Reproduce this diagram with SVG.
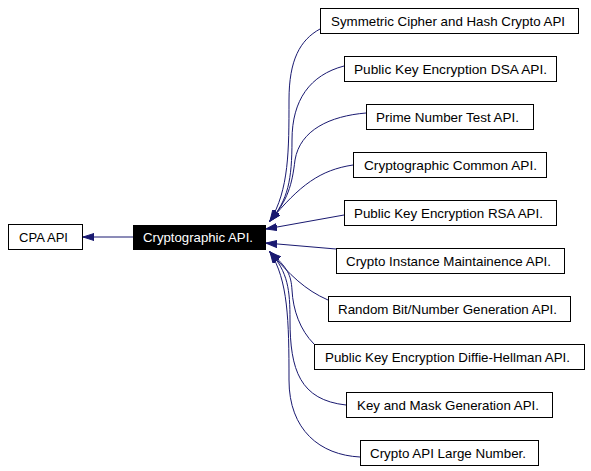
<svg xmlns="http://www.w3.org/2000/svg" width="591" height="471" viewBox="0 0 591 471">
<style>
.box{fill:#ffffff;stroke:#000000;stroke-width:1}
.lbl{font-family:"Liberation Sans",Arial,sans-serif;font-size:13px;fill:#000000;text-anchor:middle}
.edge{fill:none;stroke:#191970;stroke-width:1;marker-end:url(#ah)}
</style>
<defs>
<marker id="ah" markerUnits="userSpaceOnUse" markerWidth="12" markerHeight="8" refX="11" refY="4" orient="auto">
<path d="M0,0.5 L11,4 L0,7.5 z" fill="#191970" stroke="#191970"/>
</marker>
</defs>
<rect width="591" height="471" fill="#ffffff"/>
<g id="connectors">
<path class="edge" d="M133,237 L83,237"/>
<path class="edge" d="M320,29 C300,40 289,60 289,100 C289,150 289,190 270,221"/>
<path class="edge" d="M344,66 C310,75 292,100 292,140 C292,180 288,200 270,221"/>
<path class="edge" d="M366,113 C330,116 300,130 295,160 C292,185 288,200 270,221"/>
<path class="edge" d="M353,165 C320,170 300,185 270,221"/>
<path class="edge" d="M344,215 L266,229"/>
<path class="edge" d="M336,249 L266,243"/>
<path class="edge" d="M328,300 C305,290 290,275 270,252"/>
<path class="edge" d="M314,344 C300,330 293,310 292,290 C291,275 288,268 270,252"/>
<path class="edge" d="M346,405 C300,400 290,370 290,320 C290,290 288,272 270,252"/>
<path class="edge" d="M360,457 C320,455 289,430 289,380 C289,320 288,280 270,252"/>
</g>
<g id="cpa"><rect class="box" x="8.5" y="224.5" width="74" height="25"/><text class="lbl" x="43.5" y="241.5" textLength="49" lengthAdjust="spacingAndGlyphs">CPA API</text></g>
<g id="crypto"><rect x="133.5" y="225.5" width="132" height="24" fill="#000000" stroke="#000000"/><text class="lbl" x="198" y="242" textLength="110" lengthAdjust="spacingAndGlyphs" style="fill:#ffffff">Cryptographic API.</text></g>
<g id="sym"><rect class="box" x="320.5" y="8.5" width="258" height="25"/><text class="lbl" x="448" y="25.5" textLength="234" lengthAdjust="spacingAndGlyphs">Symmetric Cipher and Hash Crypto API</text></g>
<g id="dsa"><rect class="box" x="344.5" y="56.5" width="212" height="25"/><text class="lbl" x="450.5" y="73.5" textLength="193" lengthAdjust="spacingAndGlyphs">Public Key Encryption DSA API.</text></g>
<g id="prime"><rect class="box" x="366.5" y="104.5" width="167" height="25"/><text class="lbl" x="447.5" y="121.5" textLength="143" lengthAdjust="spacingAndGlyphs">Prime Number Test API.</text></g>
<g id="common"><rect class="box" x="353.5" y="152.5" width="193" height="25"/><text class="lbl" x="450.5" y="169.5" textLength="173" lengthAdjust="spacingAndGlyphs">Cryptographic Common API.</text></g>
<g id="rsa"><rect class="box" x="344.5" y="200.5" width="212" height="25"/><text class="lbl" x="448.5" y="217.5" textLength="189" lengthAdjust="spacingAndGlyphs">Public Key Encryption RSA API.</text></g>
<g id="instance"><rect class="box" x="336.5" y="248.5" width="228" height="25"/><text class="lbl" x="448.5" y="265.5" textLength="205" lengthAdjust="spacingAndGlyphs">Crypto Instance Maintainence API.</text></g>
<g id="random"><rect class="box" x="328.5" y="296.5" width="242" height="25"/><text class="lbl" x="447.5" y="313.5" textLength="219" lengthAdjust="spacingAndGlyphs">Random Bit/Number Generation API.</text></g>
<g id="dh"><rect class="box" x="314.5" y="344.5" width="270" height="25"/><text class="lbl" x="447.5" y="361.5" textLength="245" lengthAdjust="spacingAndGlyphs">Public Key Encryption Diffie-Hellman API.</text></g>
<g id="keymask"><rect class="box" x="346.5" y="392.5" width="206" height="25"/><text class="lbl" x="448" y="409.5" textLength="182" lengthAdjust="spacingAndGlyphs">Key and Mask Generation API.</text></g>
<g id="large"><rect class="box" x="360.5" y="440.5" width="178" height="25"/><text class="lbl" x="448" y="457.5" textLength="156" lengthAdjust="spacingAndGlyphs">Crypto API Large Number.</text></g>
</svg>
